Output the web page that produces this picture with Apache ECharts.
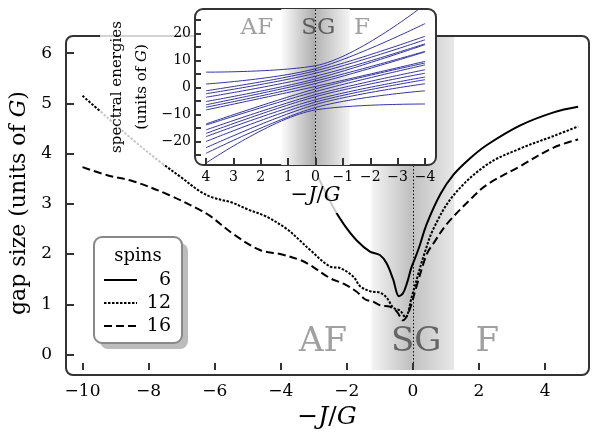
<!DOCTYPE html>
<html><head><meta charset="utf-8">
<script src="https://cdn.jsdelivr.net/npm/echarts@6/dist/echarts.min.js"></script>
<style>html,body{margin:0;padding:0;background:#fff}#c{width:592px;height:435px}</style>
</head><body><div id="c"></div>
<script>
// ---------- data ----------
const spinLabels = ['6', '12', '16'];

const x6  = [-2.86,-2.41,-2.1,-1.7,-1.3,-1.0,-0.8,-0.6,-0.42,-0.3,-0.18,-0.05,0.17,0.42,0.83,1.23,1.74,2.24,3.25,4.26,5.0];
const y6  = [3.52,2.93,2.6,2.27,2.05,1.98,1.82,1.5,1.16,1.22,1.42,1.72,2.1,2.6,3.19,3.58,3.91,4.17,4.56,4.82,4.93];

const x12 = [-10,-9.2,-8.47,-7.66,-7,-6.45,-6.04,-5.5,-5,-4.42,-3.82,-3.42,-3.11,-2.5,-2.2,-1.8,-1.6,-1.29,-0.99,-0.79,-0.59,-0.38,-0.23,-0.03,0.17,0.32,0.62,1.23,2.24,3.25,4.26,5.0];
const y12 = [5.15,4.69,4.27,3.84,3.52,3.25,3.12,3.03,2.89,2.74,2.5,2.27,2.08,1.75,1.72,1.55,1.36,1.26,1.23,1.13,0.93,0.87,0.74,1.16,1.62,1.95,2.5,3.17,3.78,4.10,4.35,4.54];

const x16 = [-10,-9.2,-8.47,-7.4,-6.45,-6.14,-5.44,-4.63,-4.02,-3.41,-3.11,-2.51,-2.1,-1.7,-1.45,-1.2,-0.99,-0.69,-0.48,-0.3,-0.13,0.12,0.42,0.62,1.03,1.79,2.24,3.25,4.26,5.0];
const y16 = [3.73,3.56,3.45,3.18,2.88,2.76,2.40,2.08,2.0,1.88,1.78,1.52,1.41,1.25,1.1,1.05,0.98,0.95,0.85,0.68,0.84,1.38,2.0,2.21,2.6,3.12,3.38,3.75,4.12,4.28];

const mainXTicks = [-10,-8,-6,-4,-2,0,2,4];
const mainYTicks = [0,1,2,3,4,5,6];

// inset spectrum: values at -J/G = 4, 0, -4
const insetX = [4, 0, -4];
const levelAt4  = [5.7,1.3,-1.2,-2.3,-3.6,-5.2,-6.4,-7.3,-8.3,-13.5,-13.9,-15.7,-17.0,-18.2,-20.0,-22.3,-24.4,-28.0];
const levelAt0  = [8.1,7.0,6.2,5.3,4.2,3.2,2.4,1.5,0.4,-0.5,-1.5,-2.6,-3.4,-4.5,-5.4,-6.3,-7.4,-8.3];
const levelAtM4 = [30.8,23.7,19.0,17.7,16.2,15.9,13.4,13.2,9.7,9.1,8.4,6.6,5.3,3.9,2.9,1.4,-1.2,-6.1];

const insetXTicks = [4,3,2,1,0,-1,-2,-3,-4];
const insetYTickMarks = [-25,-20,-15,-10,-5,0,5,10,15,20,25];
const insetYTickLabels = [-20,-10,0,10,20];

const phaseNames = ['AF', 'SG', 'F'];
const phaseXMain = [-2.72, 0.1, 2.25];
const phaseXInset = [2.14, -0.1, -1.7];

// ---------- chart ----------
const FONT = 'DejaVu Serif';
const minus = v => String(v).replace('-', '\u2212');
const zip = (xs, ys) => xs.map((x, i) => [x, ys[i]]);

const chart = echarts.init(document.getElementById('c'), null, {renderer: 'canvas'});

const MAIN = {left: 66, top: 36, width: 522, height: 339};
const INSET = {left: 195, top: 9, width: 241, height: 156};

const lineStyles = [
  {color: '#000', width: 2, type: 'solid'},
  {color: '#000', width: 2, type: [2.5, 1.5]},
  {color: '#000', width: 2, type: [8, 4]}
];

const series = [];
// main band + zero line carrier
series.push({
  type: 'line', xAxisIndex: 0, yAxisIndex: 0, data: [[0, 0]], z: 1,
  showSymbol: false, lineStyle: {opacity: 0}, silent: true,
  markArea: {
    silent: true, z: 1,
    data: [
      [{xAxis: -1.25, itemStyle: {color: {type: 'linear', x: 0, y: 0, x2: 1, y2: 0,
        colorStops: [{offset: 0, color: '#f4f4f4'}, {offset: 1, color: '#bdbdbd'}]}}}, {xAxis: 0}],
      [{xAxis: 0, itemStyle: {color: {type: 'linear', x: 0, y: 0, x2: 1, y2: 0,
        colorStops: [{offset: 0, color: '#c2c2c2'}, {offset: 1, color: '#e8e8e8'}]}}}, {xAxis: 1.25}]
    ]
  },
  markLine: {
    silent: true, z: 2, symbol: ['none', 'none'], label: {show: false},
    lineStyle: {type: [1.5, 2], color: '#000', width: 1},
    data: [{xAxis: 0}]
  }
});
// main phase labels
series.push({
  type: 'scatter', xAxisIndex: 0, yAxisIndex: 0, symbolSize: 0, z: 2, silent: true,
  data: phaseNames.map((n, i) => ({
    value: [phaseXMain[i], 0.24], name: n,
    label: {color: n === 'SG' ? '#4a4a4a' : '#888'}
  })),
  label: {show: true, position: 'inside', formatter: p => p.name, fontFamily: FONT, fontSize: 34}
});
// main curves
[[x6, y6], [x12, y12], [x16, y16]].forEach((d, i) => {
  series.push({
    type: 'line', name: spinLabels[i], xAxisIndex: 0, yAxisIndex: 0,
    data: zip(d[0], d[1]), showSymbol: false, smooth: 0.35, z: 3,
    lineStyle: lineStyles[i], silent: true
  });
});
// inset band + zero line carrier
series.push({
  type: 'line', xAxisIndex: 1, yAxisIndex: 1, data: [[0, 0]], z: 5,
  showSymbol: false, lineStyle: {opacity: 0}, silent: true,
  markArea: {
    silent: true, z: 5,
    data: [
      [{xAxis: 1.25, itemStyle: {color: {type: 'linear', x: 0, y: 0, x2: 1, y2: 0,
        colorStops: [{offset: 0, color: '#fcfcfc'}, {offset: 1, color: '#ababab'}]}}}, {xAxis: 0}],
      [{xAxis: 0, itemStyle: {color: {type: 'linear', x: 0, y: 0, x2: 1, y2: 0,
        colorStops: [{offset: 0, color: '#b4b4b4'}, {offset: 1, color: '#f4f4f4'}]}}}, {xAxis: -1.25}]
    ]
  },
  markLine: {
    silent: true, z: 6, symbol: ['none', 'none'], label: {show: false},
    lineStyle: {type: [1.5, 2], color: '#000', width: 1},
    data: [{xAxis: 0}]
  }
});
series.push({
  type: 'scatter', xAxisIndex: 1, yAxisIndex: 1, symbolSize: 0, z: 6, silent: true,
  data: phaseNames.map((n, i) => ({
    value: [phaseXInset[i], 22], name: n,
    label: {color: n === 'SG' ? '#444' : '#888'}
  })),
  label: {show: true, position: 'inside', formatter: p => p.name, fontFamily: FONT, fontSize: 23}
});
levelAt4.forEach((v, i) => {
  series.push({
    type: 'line', xAxisIndex: 1, yAxisIndex: 1, z: 6, silent: true,
    data: zip(insetX, [v, levelAt0[i], levelAtM4[i]]),
    showSymbol: false, smooth: 0.35,
    lineStyle: {color: '#3535a0', width: 1}
  });
});

const tickLabel = (size, margin) => ({fontFamily: FONT, fontSize: size, color: '#000', margin, formatter: minus});
const noLine = {show: false, onZero: false};

chart.setOption({
  animation: false,
  backgroundColor: '#fff',
  grid: [
    Object.assign({containLabel: false}, MAIN),
    Object.assign({containLabel: false}, INSET)
  ],
  xAxis: [
    {type: 'value', gridIndex: 0, min: -10.5, max: 5.3, z: 3,
     name: '\u2212{i|J}/{i|G}', nameLocation: 'middle', nameGap: 34,
     nameTextStyle: {fontFamily: FONT, fontSize: 25, color: '#000',
       rich: {i: {fontFamily: FONT, fontSize: 25, fontStyle: 'italic', color: '#000'}}},
     axisLine: noLine, splitLine: {show: false},
     axisTick: {inside: true, length: 7, customValues: mainXTicks, lineStyle: {color: '#333', width: 2}},
     axisLabel: Object.assign(tickLabel(17, 13), {customValues: mainXTicks})},
    {type: 'value', gridIndex: 1, min: -4.4, max: 4.4, inverse: true, z: 7,
     name: '\u2212{i|J}/{i|G}', nameLocation: 'middle', nameGap: 19,
     nameTextStyle: {fontFamily: FONT, fontSize: 21, color: '#000',
       rich: {i: {fontFamily: FONT, fontSize: 21, fontStyle: 'italic', color: '#000'}}},
     axisLine: noLine, splitLine: {show: false},
     axisTick: {inside: true, length: 7, customValues: insetXTicks, lineStyle: {color: '#333', width: 2}},
     axisLabel: Object.assign(tickLabel(14, 5), {customValues: insetXTicks})}
  ],
  yAxis: [
    {type: 'value', gridIndex: 0, min: -0.31, max: 6.34, z: 3,
     name: 'gap size (units of {i|G})', nameLocation: 'middle', nameGap: 29, nameRotate: 90,
     nameTextStyle: {fontFamily: FONT, fontSize: 22, color: '#000',
       rich: {i: {fontFamily: FONT, fontSize: 22, fontStyle: 'italic', color: '#000'}}},
     axisLine: noLine, splitLine: {show: false},
     axisTick: {inside: true, length: 8, customValues: mainYTicks, lineStyle: {color: '#333', width: 2}},
     axisLabel: Object.assign(tickLabel(17, 14), {customValues: mainYTicks})},
    {type: 'value', gridIndex: 1, min: -28.7, max: 29.1, z: 7,
     name: 'spectral energies\n(units of {i|G})', nameLocation: 'middle', nameGap: 40, nameRotate: 90,
     nameTextStyle: {fontFamily: FONT, fontSize: 15, color: '#000', lineHeight: 25,
       rich: {i: {fontFamily: FONT, fontSize: 15, fontStyle: 'italic', color: '#000', lineHeight: 25}}},
     axisLine: noLine, splitLine: {show: false},
     axisTick: {inside: true, length: 6, customValues: insetYTickMarks, lineStyle: {color: '#333', width: 2}},
     axisLabel: Object.assign(tickLabel(14, 4), {customValues: insetYTickLabels})}
  ],
  series: series,
  graphic: [
    // main frame
    {type: 'rect', z: 3, silent: true,
     shape: {x: MAIN.left, y: MAIN.top, width: MAIN.width + 1, height: MAIN.height, r: 7},
     style: {fill: 'none', stroke: '#333', lineWidth: 2}},
    // white haze behind inset labels
    {type: 'rect', z: 4, silent: true,
     shape: {x: 100, y: 12, width: 95, height: 153},
     style: {fill: 'rgba(255,255,255,0.78)'}},
    {type: 'rect', z: 4, silent: true,
     shape: {x: 286, y: 176, width: 62, height: 37},
     style: {fill: 'rgba(255,255,255,0.78)'}},
    // inset box
    {type: 'rect', z: 4, silent: true,
     shape: {x: INSET.left, y: INSET.top, width: INSET.width, height: INSET.height, r: 8},
     style: {fill: '#fff', stroke: '#333', lineWidth: 2}},
    // legend box
    {type: 'rect', z: 8, silent: true,
     shape: {x: 100, y: 243, width: 88, height: 106, r: 8}, style: {fill: '#bcbcbc'}},
    {type: 'rect', z: 8, silent: true,
     shape: {x: 94, y: 237, width: 88, height: 106, r: 8},
     style: {fill: '#fff', stroke: '#888', lineWidth: 2}},
    {type: 'text', z: 9, silent: true,
     style: {x: 138, y: 256, text: 'spins', fontFamily: FONT, fontSize: 18, fill: '#000',
             align: 'center', verticalAlign: 'middle'}}
  ].concat(spinLabels.flatMap((lab, i) => {
    const yy = 280 + i * 23;
    return [
      {type: 'line', z: 9, silent: true,
       shape: {x1: 104, y1: yy, x2: 137, y2: yy},
       style: {stroke: '#000', lineWidth: 2,
               lineDash: lineStyles[i].type === 'solid' ? null : lineStyles[i].type}},
      {type: 'text', z: 9, silent: true,
       style: {x: 171, y: yy, text: lab, fontFamily: FONT, fontSize: 19, fill: '#000',
               align: 'right', verticalAlign: 'middle'}}
    ];
  }))
});
</script>
</body></html>
